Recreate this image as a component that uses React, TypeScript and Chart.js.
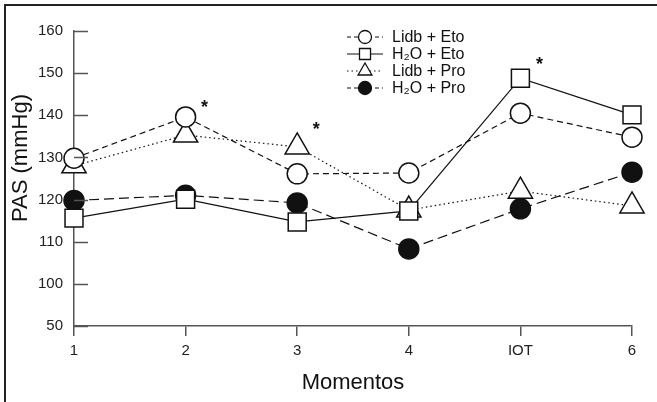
import React, { useEffect, useRef } from 'react';
import { Chart, registerables } from 'chart.js';

Chart.register(...registerables);

// ---- data ----
const categories = ['1', '2', '3', '4', 'IOT', '6'];
const lidbEto = [129.8, 139.6, 126.1, 126.3, 140.5, 134.8];
const h2oEto = [115.6, 120.1, 114.7, 117.3, 148.8, 140.1];
const lidbPro = [128.0, 135.3, 132.5, 117.5, 122.0, 118.5];
const h2oPro = [119.8, 121.0, 119.2, 108.3, 117.8, 126.5];
const seriesLabels = ['Lidb + Eto', 'H\u2082O + Eto', 'Lidb + Pro', 'H\u2082O + Pro'];
// axis with a break: the lowest tick (90 on the scale) is labelled 50
const yTickValues = [90, 100, 110, 120, 130, 140, 150, 160];
const yTickLabels = ['50', '100', '110', '120', '130', '140', '150', '160'];
const asteriskCategory = [1, 2, 4];
const asteriskValue = [142.4, 137.2, 152.6];
const yTitle = 'PAS (mmHg)';
const xTitle = 'Momentos';

const FONT = '"Liberation Sans", Arial, sans-serif';
const INK = '#111';
const AXIS = '#555';

type Style = { dash: number[]; point: string; fill: string; r: number; lr: number };
const styles: Style[] = [
  { dash: [6, 4], point: 'circle', fill: '#fff', r: 10, lr: 6.5 },
  { dash: [], point: 'rect', fill: '#fff', r: 12.7, lr: 7.8 },
  { dash: [1.5, 3], point: 'triangle', fill: '#fff', r: 14, lr: 8 },
  { dash: [10, 5], point: 'circle', fill: '#111', r: 10, lr: 6.5 },
];

function drawMarker(ctx: CanvasRenderingContext2D, s: Style, x: number, y: number) {
  ctx.save();
  ctx.setLineDash([]);
  ctx.lineWidth = 1.3;
  ctx.strokeStyle = INK;
  ctx.fillStyle = s.fill;
  ctx.beginPath();
  const r = s.lr;
  if (s.point === 'circle') ctx.arc(x, y, r, 0, Math.PI * 2);
  else if (s.point === 'rect') {
    const h = r * Math.SQRT1_2;
    ctx.rect(x - h, y - h, 2 * h, 2 * h);
  } else {
    ctx.moveTo(x, y - r);
    ctx.lineTo(x + 0.866 * r, y + 0.5 * r);
    ctx.lineTo(x - 0.866 * r, y + 0.5 * r);
    ctx.closePath();
  }
  ctx.fill();
  ctx.stroke();
  ctx.restore();
}

const extras = {
  id: 'extras',
  afterDraw(chart: any) {
    const ctx: CanvasRenderingContext2D = chart.ctx;
    const { left } = chart.chartArea;
    const xs = chart.scales.x;
    const ys = chart.scales.y;
    ctx.save();
    // frame (top and left)
    ctx.strokeStyle = '#222';
    ctx.lineWidth = 2;
    ctx.beginPath();
    ctx.moveTo(5, 402);
    ctx.lineTo(5, 5);
    ctx.lineTo(657, 5);
    ctx.stroke();
    // inward y ticks
    ctx.strokeStyle = AXIS;
    ctx.lineWidth = 1.5;
    yTickValues.forEach((v) => {
      const py = Math.round(ys.getPixelForValue(v)) + 0.5;
      ctx.beginPath();
      ctx.moveTo(left, py);
      ctx.lineTo(left + 14, py);
      ctx.stroke();
    });
    // y title
    ctx.save();
    ctx.translate(21, 158);
    ctx.rotate(-Math.PI / 2);
    ctx.fillStyle = INK;
    ctx.font = `22px ${FONT}`;
    ctx.textAlign = 'center';
    ctx.textBaseline = 'middle';
    ctx.fillText(yTitle, 0, 0);
    ctx.restore();
    // asterisks
    ctx.fillStyle = INK;
    ctx.font = `bold 18px ${FONT}`;
    ctx.textAlign = 'center';
    ctx.textBaseline = 'middle';
    asteriskCategory.forEach((c, i) => {
      ctx.fillText('*', xs.getPixelForValue(c) + 19, ys.getPixelForValue(asteriskValue[i]) + 3);
    });
    // legend
    const lx0 = 347, lx1 = 383, mx = 365, tx = 392;
    const rows = [37, 54, 71, 88];
    ctx.font = `16px ${FONT}`;
    ctx.textAlign = 'left';
    seriesLabels.forEach((lab, i) => {
      const s = styles[i];
      const y = rows[i];
      ctx.strokeStyle = INK;
      ctx.lineWidth = 1.1;
      ctx.setLineDash(s.dash.length ? [Math.min(s.dash[0], 4), s.dash[1] > 3 ? 3 : s.dash[1]] : []);
      ctx.beginPath();
      ctx.moveTo(lx0, y);
      ctx.lineTo(lx1, y);
      ctx.stroke();
      ctx.setLineDash([]);
      drawMarker(ctx, s, mx, y);
      ctx.fillStyle = INK;
      ctx.fillText(lab, tx, y + 1);
    });
    ctx.restore();
  },
};

export default function App() {
  const ref = useRef<HTMLCanvasElement>(null);
  useEffect(() => {
    if (!ref.current) return;
    const series = [lidbEto, h2oEto, lidbPro, h2oPro];
    const orders = [1, 0, 2, 3];
    const chart = new Chart(ref.current, {
      type: 'line',
      data: {
        labels: categories,
        datasets: series.map((d, i) => ({
          label: seriesLabels[i],
          data: d,
          borderColor: INK,
          borderWidth: 1.2,
          borderDash: styles[i].dash,
          pointStyle: styles[i].point as any,
          pointRadius: styles[i].r,
          pointBackgroundColor: styles[i].fill,
          pointBorderColor: INK,
          pointBorderWidth: 1.5,
          fill: false,
          tension: 0,
          clip: false as any,
          order: orders[i],
        })),
      },
      options: {
        responsive: false,
        animation: false,
        events: [],
        layout: { padding: { top: 31, right: 25, left: 0, bottom: 0 } },
        plugins: { legend: { display: false }, tooltip: { enabled: false } },
        scales: {
          x: {
            type: 'category',
            offset: false,
            grid: { display: true, drawOnChartArea: false, drawTicks: true, tickLength: 10, color: AXIS, lineWidth: 1.5 },
            border: { display: true, color: AXIS, width: 1.5 },
            ticks: { color: '#222', font: { family: FONT, size: 15 }, padding: 6, maxRotation: 0, autoSkip: false },
            title: { display: true, text: xTitle, color: INK, font: { family: FONT, size: 22 }, padding: { top: 0, bottom: 6 } },
            afterFit: (s: any) => { s.height = 76; },
          },
          y: {
            type: 'linear',
            min: 90,
            max: 160,
            grid: { display: false, drawTicks: false },
            border: { display: true, color: AXIS, width: 1.5 },
            afterBuildTicks: (s: any) => { s.ticks = yTickValues.map((v) => ({ value: v })); },
            ticks: {
              color: '#222',
              font: { family: FONT, size: 15 },
              padding: 11,
              callback: (v: any) => {
                const k = yTickValues.indexOf(Number(v));
                return k >= 0 ? yTickLabels[k] : '';
              },
            },
            title: { display: false },
            afterFit: (s: any) => { s.width = 74; },
          },
        },
      },
      plugins: [extras],
    });
    return () => chart.destroy();
  }, []);
  return (
    <div style={{ position: 'fixed', left: 0, top: 0, width: 657, height: 402, background: '#fff' }}>
      <canvas ref={ref} width={657} height={402} style={{ display: 'block' }} />
    </div>
  );
}
